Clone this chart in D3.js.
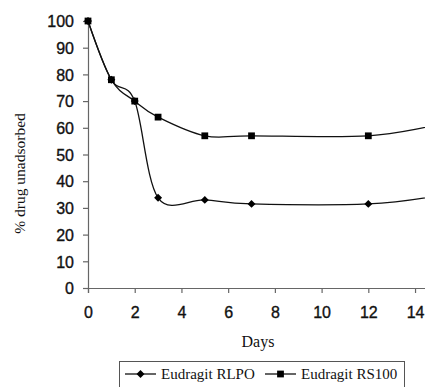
<!DOCTYPE html>
<html>
<head>
<meta charset="utf-8">
<script src="https://cdn.jsdelivr.net/npm/d3@7"></script>
<style>
  body { margin: 0; background: #fff; }
  svg { display: block; }
  .tick text { font-family: "Liberation Sans", Arial, sans-serif; font-size: 16px; fill: #111; stroke: #111; stroke-width: 0.35px; }
  .serif { font-family: "Liberation Serif", "Times New Roman", serif; fill: #111; }
</style>
</head>
<body>
<svg id="chart" width="425" height="387"></svg>
<script>
// days sampled
const days = [0, 1, 2, 3, 5, 7, 12, 15];
// % drug unadsorbed
const rlpo = [100, 78, 70, 33.8, 33, 31.5, 31.5, 34.6];
const rs100 = [100, 78, 70, 64, 57, 57, 57, 61.3];
const xTicks = [0, 2, 4, 6, 8, 10, 12, 14];
const yTicks = [0, 10, 20, 30, 40, 50, 60, 70, 80, 90, 100];
const seriesNames = ["Eudragit RLPO", "Eudragit RS100"];

const svg = d3.select("#chart");
const margin = {left: 88, top: 21, bottom: 99};
const W = 425, H = 387;

const x = d3.scaleLinear().domain([0, 15]).range([margin.left, margin.left + 15 * 23.36]);
const y = d3.scaleLinear().domain([0, 100]).range([H - margin.bottom, margin.top]);

// axes
const yAxis = svg.append("g")
    .attr("transform", `translate(${x(0)},0)`)
    .call(d3.axisLeft(y).tickValues(yTicks).tickSize(5).tickPadding(9));
const xAxis = svg.append("g")
    .attr("transform", `translate(0,${y(0)})`)
    .call(d3.axisBottom(x).tickValues(xTicks).tickSize(5).tickPadding(14));
[xAxis, yAxis].forEach(a => {
    a.select(".domain").attr("stroke", "#666").attr("stroke-width", 1.2);
    a.selectAll(".tick line").attr("stroke", "#666").attr("stroke-width", 1.2);
});
yAxis.selectAll(".tick text").attr("dy", "0.36em");

// lines
const line = d3.line()
    .x(d => x(d[0]))
    .y(d => y(d[1]))
    .curve(d3.curveCardinal.tension(0));

const series = [
    {name: seriesNames[0], vals: rlpo, shape: d3.symbolDiamond2},
    {name: seriesNames[1], vals: rs100, shape: d3.symbolSquare}
];

series.forEach(s => {
    const pts = days.map((d, i) => [d, s.vals[i]]);
    svg.append("path")
        .attr("d", line(pts))
        .attr("fill", "none")
        .attr("stroke", "#111")
        .attr("stroke-width", 1.3);
    svg.selectAll(null).data(pts.filter(p => x(p[0]) < W)).enter()
        .append("path")
        .attr("d", d3.symbol().type(s.shape).size(s.shape === d3.symbolSquare ? 46 : 40))
        .attr("transform", d => `translate(${x(d[0])},${y(d[1])})`)
        .attr("fill", "#000");
});

// axis titles
svg.append("text").attr("class", "serif")
    .attr("transform", `translate(25,${(y(0) + y(100)) / 2 + 19}) rotate(-90)`)
    .attr("text-anchor", "middle")
    .attr("font-size", 15.5)
    .text("% drug unadsorbed");
svg.append("text").attr("class", "serif")
    .attr("x", 258).attr("y", 347)
    .attr("text-anchor", "middle")
    .attr("font-size", 16)
    .text("Days");

// legend
const leg = svg.append("g");
leg.append("rect")
    .attr("x", 119.5).attr("y", 361.5).attr("width", 285).attr("height", 30)
    .attr("fill", "none").attr("stroke", "#555").attr("stroke-width", 1);
const legX = [125, 265];
series.forEach((s, i) => {
    const g = leg.append("g").attr("transform", `translate(${legX[i]},374)`);
    g.append("line").attr("x1", 0).attr("x2", 31).attr("stroke", "#111").attr("stroke-width", 1.3);
    g.append("path")
        .attr("d", d3.symbol().type(s.shape).size(s.shape === d3.symbolSquare ? 46 : 40))
        .attr("transform", "translate(15.5,0)");
    g.append("text").attr("class", "serif")
        .attr("x", 36).attr("y", 5)
        .attr("font-size", 15)
        .text(s.name);
});
</script>
</body>
</html>
